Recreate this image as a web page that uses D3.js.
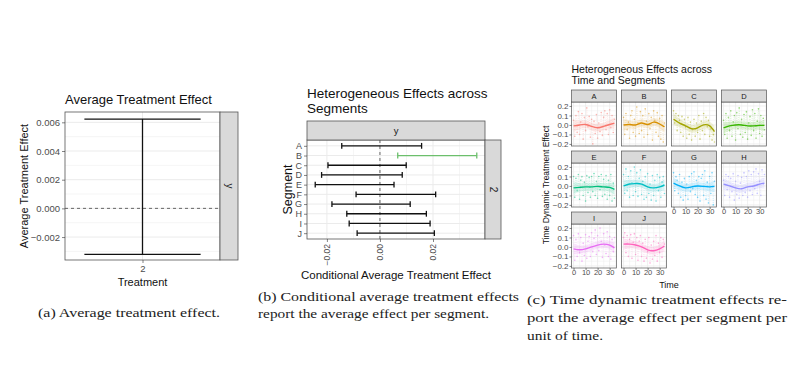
<!DOCTYPE html>
<html>
<head>
<meta charset="utf-8">
<script src="https://cdn.jsdelivr.net/npm/d3@7"></script>
<style>
  body { margin: 0; background: #fff; }
  svg { display: block; }
  text { font-family: "Liberation Sans", Arial, sans-serif; }
  .cap { font-family: "Liberation Serif", "DejaVu Serif", serif; fill: #222; }
</style>
</head>
<body>
<svg id="fig" width="800" height="392"></svg>
<script>
// ---------------- data ----------------
// (a) average treatment effect
var ateTreatment = ["2"];
var ateLower = [-0.00321];
var ateUpper = [0.00623];
var ateTicks = [-0.002, 0.000, 0.002, 0.004, 0.006];

// (b) conditional average treatment effects per segment
var segments = ["A", "B", "C", "D", "E", "F", "G", "H", "I", "J"];
var cateLower = [-0.0144, 0.0067, -0.0196, -0.0220, -0.0244, -0.0090, -0.0181, -0.0125, -0.0116, -0.0086];
var cateUpper = [0.0157, 0.0365, 0.0099, 0.0084, 0.0053, 0.0210, 0.0114, 0.0175, 0.0189, 0.0205];
var cateSignificant = ["B"];
var cateTicks = [-0.02, 0.00, 0.02];

// (c) time dynamic effects, one series per segment (time 0..34)
var timeSteps = d3.range(0, 35);
var timeTicks = [0, 10, 20, 30];
var dynTicks = [-0.2, -0.1, 0.0, 0.1, 0.2];
var dynA = [0.05,-0.12,0.1,-0.08,0.14,-0.1,0.03,0.12,-0.15,0.08,-0.06,0.18,-0.02,0.09,-0.13,0.06,-0.2,0.04,-0.09,0.11,-0.14,0.02,-0.07,0.13,-0.11,0.08,0.15,-0.05,0.12,-0.1,0.16,-0.03,0.1,-0.08,0.06];
var dynB = [0.08,-0.1,0.12,-0.05,0.03,-0.14,0.1,0.15,-0.08,0.06,-0.12,0.19,0.02,-0.09,0.14,-0.06,0.1,-0.13,0.17,0.04,-0.1,0.12,-0.04,0.08,-0.16,0.15,0.05,-0.08,0.13,-0.12,0.07,-0.15,0.1,-0.18,0.02];
var dynC = [0.15,0.02,0.12,-0.06,0.1,0.05,-0.08,0.09,-0.12,0.06,-0.02,-0.14,0.08,-0.1,0.03,-0.16,-0.05,0.06,-0.12,0.02,-0.08,0.1,-0.15,0.04,-0.06,0.12,-0.1,0.08,-0.02,0.05,-0.12,-0.04,-0.16,-0.1,-0.18];
var dynD = [0.05,-0.1,0.12,-0.14,0.08,-0.06,0.15,-0.12,0.03,0.1,-0.16,0.13,-0.04,0.18,-0.1,0.06,-0.13,0.11,-0.08,0.14,-0.15,0.02,0.09,-0.11,0.16,-0.06,0.12,-0.14,0.04,0.17,-0.09,0.1,-0.12,0.07,-0.05];
var dynE = [0.1,-0.12,0.08,-0.05,0.12,-0.14,0.06,0.1,-0.1,0.04,-0.16,0.11,-0.07,0.09,-0.12,0.1,-0.06,0.13,-0.1,0.05,-0.13,0.1,-0.04,0.12,-0.11,0.07,-0.09,0.11,-0.14,0.06,-0.1,0.12,-0.16,0.03,-0.13];
var dynF = [0.12,-0.08,0.18,-0.05,0.1,-0.12,0.16,0.03,-0.1,0.2,-0.06,0.14,-0.11,0.08,0.17,-0.09,0.05,-0.14,0.1,-0.12,0.13,-0.08,0.02,-0.15,0.11,-0.1,0.06,-0.16,0.12,-0.05,0.09,-0.12,0.04,0.1,-0.08];
var dynG = [0.14,-0.05,0.1,0.06,-0.08,0.12,-0.12,0.04,-0.15,0.08,-0.1,0.02,-0.14,0.1,-0.06,0.13,-0.03,0.15,-0.09,0.06,-0.12,0.1,-0.16,0.08,0.12,-0.1,0.16,-0.14,0.04,-0.18,0.1,-0.08,0.14,-0.2,0.05];
var dynH = [0.06,-0.1,0.12,-0.04,0.1,-0.12,0.08,-0.06,0.13,-0.15,0.05,-0.09,0.11,-0.13,0.03,0.09,-0.1,0.14,-0.07,0.1,-0.12,0.16,-0.05,0.12,-0.09,0.15,-0.03,0.18,-0.08,0.13,0.05,-0.1,0.17,0.02,0.12];
var dynI = [0.12,-0.14,0.08,-0.1,0.14,-0.06,0.1,-0.15,0.04,-0.09,0.13,-0.12,0.06,0.11,-0.1,0.15,-0.05,0.09,0.18,-0.08,0.12,-0.04,0.2,0.06,-0.11,0.14,0.02,-0.07,0.16,-0.1,0.11,-0.13,0.08,-0.05,0.1];
var dynJ = [0.1,0.15,-0.06,0.12,-0.1,0.08,0.13,-0.12,0.05,0.14,-0.08,0.1,-0.14,0.06,0.12,-0.1,0.04,-0.15,0.08,-0.12,-0.05,0.1,-0.17,0.02,-0.13,0.06,-0.09,0.12,-0.15,0.04,-0.06,0.1,-0.11,0.08,0.03];

// loess-like smooth per segment, read at these times
var smoothTimes = [0, 5, 10, 15, 20, 25, 30, 34];
var smoothA = [-0.01, 0.0, 0.005, -0.015, -0.03, -0.015, 0.005, 0.02];
var smoothB = [0.0, 0.005, 0.0, 0.02, 0.005, 0.03, 0.01, -0.02];
var smoothC = [0.06, 0.02, -0.01, -0.04, -0.03, 0.0, -0.01, -0.07];
var smoothD = [-0.03, -0.01, 0.0, 0.0, -0.01, -0.01, -0.005, -0.005];
var smoothE = [-0.02, -0.015, -0.01, -0.01, -0.005, -0.01, -0.015, -0.035];
var smoothF = [0.0, 0.02, 0.025, 0.02, -0.01, -0.02, -0.01, 0.01];
var smoothG = [0.03, 0.0, -0.02, -0.01, 0.0, -0.005, -0.01, -0.005];
var smoothH = [0.02, 0.0, -0.02, -0.03, -0.01, 0.0, 0.02, 0.03];
var smoothI = [-0.02, -0.03, -0.02, 0.0, 0.02, 0.03, 0.02, -0.01];
var smoothJ = [0.03, 0.03, 0.02, 0.0, -0.03, -0.04, -0.02, 0.01];
var smoothSE = [0.06, 0.045, 0.04, 0.04, 0.04, 0.04, 0.045, 0.06];

var dynSeries = [dynA, dynB, dynC, dynD, dynE, dynF, dynG, dynH, dynI, dynJ];
var smoothSeries = [smoothA, smoothB, smoothC, smoothD, smoothE, smoothF, smoothG, smoothH, smoothI, smoothJ];
var segColors = ["#F8766D", "#D89000", "#A3A500", "#39B600", "#00BF7D", "#00BFC4", "#00B0F6", "#9590FF", "#E76BF3", "#FF62BC"];

// ---------------- helpers ----------------
var svg = d3.select("#fig");
var gridCol = "#ebebeb", borderCol = "#555", stripFill = "#d9d9d9", tickTxt = "#4d4d4d";

function styleAxis(g, size) {
  g.select(".domain").remove();
  g.selectAll(".tick line").attr("stroke", "#333").attr("stroke-width", 0.6);
  g.selectAll(".tick text").attr("fill", tickTxt).style("font-size", size + "px");
}

// ================= (a) =================
var aL = 65, aR = 220, aT = 112, aB = 260;
var xA = d3.scalePoint().domain(ateTreatment).range([aL, aR]).padding(0.5);
var yA = d3.scaleLinear().domain([-0.0036, 0.00672]).range([aB, aT]);
var unitA = (aR - aL) / 1.2;
var gA = svg.append("g");

gA.append("g").selectAll("line").data([-0.003, -0.001, 0.001, 0.003, 0.005]).join("line")
  .attr("x1", aL).attr("x2", aR).attr("y1", d => yA(d)).attr("y2", d => yA(d))
  .attr("stroke", gridCol).attr("stroke-width", 0.5);
gA.append("g").selectAll("line").data(ateTicks).join("line")
  .attr("x1", aL).attr("x2", aR).attr("y1", d => yA(d)).attr("y2", d => yA(d))
  .attr("stroke", gridCol).attr("stroke-width", 1);
gA.append("line").attr("x1", xA("2")).attr("x2", xA("2")).attr("y1", aT).attr("y2", aB)
  .attr("stroke", gridCol).attr("stroke-width", 1);
gA.append("line").attr("x1", aL).attr("x2", aR).attr("y1", yA(0)).attr("y2", yA(0))
  .attr("stroke", "#444").attr("stroke-width", 0.8).attr("stroke-dasharray", "3,3");

ateTreatment.forEach(function (t, i) {
  var cx = xA(t), hw = 0.45 * unitA;
  gA.append("line").attr("x1", cx).attr("x2", cx).attr("y1", yA(ateUpper[i])).attr("y2", yA(ateLower[i]))
    .attr("stroke", "#111").attr("stroke-width", 1.3);
  [ateUpper[i], ateLower[i]].forEach(function (v) {
    gA.append("line").attr("x1", cx - hw).attr("x2", cx + hw).attr("y1", yA(v)).attr("y2", yA(v))
      .attr("stroke", "#111").attr("stroke-width", 1.3);
  });
});
gA.append("rect").attr("x", aL).attr("y", aT).attr("width", aR - aL).attr("height", aB - aT)
  .attr("fill", "none").attr("stroke", borderCol).attr("stroke-width", 0.8);
gA.append("rect").attr("x", aR).attr("y", aT).attr("width", 18).attr("height", aB - aT)
  .attr("fill", stripFill).attr("stroke", borderCol).attr("stroke-width", 0.8);
gA.append("text").attr("transform", "translate(" + (aR + 9) + "," + ((aT + aB) / 2) + ") rotate(90)")
  .attr("text-anchor", "middle").attr("dy", "0.35em").style("font-size", "10px").attr("fill", "#1a1a1a").text("y");

gA.append("g").attr("transform", "translate(" + aL + ",0)")
  .call(d3.axisLeft(yA).tickValues(ateTicks).tickFormat(d3.format(".3f")).tickSize(3).tickPadding(2))
  .call(g => styleAxis(g, 9.5));
gA.append("g").attr("transform", "translate(0," + aB + ")")
  .call(d3.axisBottom(xA).tickSize(3).tickPadding(2))
  .call(g => styleAxis(g, 9.5));
gA.append("text").attr("x", aL).attr("y", 104).style("font-size", "13px").attr("fill", "#111").text("Average Treatment Effect");
gA.append("text").attr("transform", "translate(24," + ((aT + aB) / 2) + ") rotate(-90)")
  .attr("text-anchor", "middle").attr("dy", "0.35em").style("font-size", "11px").attr("fill", "#111").text("Average Treatment Effect");
gA.append("text").attr("x", (aL + aR) / 2).attr("y", 286).attr("text-anchor", "middle")
  .style("font-size", "11px").attr("fill", "#111").text("Treatment");

// ================= (b) =================
var bL = 307, bR = 485, bT = 140, bB = 239;
var xB = d3.scaleLinear().domain([-0.0275, 0.0396]).range([bL, bR]);
var yB = d3.scalePoint().domain(segments).range([bT, bB]).padding(0.6);
var gB = svg.append("g");

gB.append("g").selectAll("line").data([-0.01, 0.01, 0.03]).join("line")
  .attr("x1", d => xB(d)).attr("x2", d => xB(d)).attr("y1", bT).attr("y2", bB)
  .attr("stroke", gridCol).attr("stroke-width", 0.5);
gB.append("g").selectAll("line").data(cateTicks).join("line")
  .attr("x1", d => xB(d)).attr("x2", d => xB(d)).attr("y1", bT).attr("y2", bB)
  .attr("stroke", gridCol).attr("stroke-width", 1);
gB.append("g").selectAll("line").data(segments).join("line")
  .attr("x1", bL).attr("x2", bR).attr("y1", d => yB(d)).attr("y2", d => yB(d))
  .attr("stroke", gridCol).attr("stroke-width", 1);
gB.append("line").attr("x1", xB(0)).attr("x2", xB(0)).attr("y1", bT).attr("y2", bB)
  .attr("stroke", "#444").attr("stroke-width", 0.8).attr("stroke-dasharray", "3,3");

var capB = 0.3 * yB.step();
segments.forEach(function (s, i) {
  var col = cateSignificant.indexOf(s) >= 0 ? "#6cbf6c" : "#111";
  var cy = yB(s);
  var eb = gB.append("g").attr("stroke", col).attr("stroke-width", 1.3);
  eb.append("line").attr("x1", xB(cateLower[i])).attr("x2", xB(cateUpper[i])).attr("y1", cy).attr("y2", cy);
  [cateLower[i], cateUpper[i]].forEach(function (v) {
    eb.append("line").attr("x1", xB(v)).attr("x2", xB(v)).attr("y1", cy - capB).attr("y2", cy + capB);
  });
});
gB.append("rect").attr("x", bL).attr("y", bT).attr("width", bR - bL).attr("height", bB - bT)
  .attr("fill", "none").attr("stroke", borderCol).attr("stroke-width", 0.8);
gB.append("rect").attr("x", bL).attr("y", 121).attr("width", bR - bL).attr("height", bT - 121)
  .attr("fill", stripFill).attr("stroke", borderCol).attr("stroke-width", 0.8);
gB.append("text").attr("x", (bL + bR) / 2).attr("y", 130.5).attr("dy", "0.35em").attr("text-anchor", "middle")
  .style("font-size", "9.5px").attr("fill", "#1a1a1a").text("y");
gB.append("rect").attr("x", bR).attr("y", bT).attr("width", 16).attr("height", bB - bT)
  .attr("fill", stripFill).attr("stroke", borderCol).attr("stroke-width", 0.8);
gB.append("text").attr("transform", "translate(" + (bR + 8) + "," + ((bT + bB) / 2) + ") rotate(90)")
  .attr("text-anchor", "middle").attr("dy", "0.35em").style("font-size", "10px").attr("fill", "#1a1a1a").text("2");

gB.append("g").attr("transform", "translate(" + bL + ",0)")
  .call(d3.axisLeft(yB).tickSize(3).tickPadding(2))
  .call(g => styleAxis(g, 9));
gB.append("g").attr("transform", "translate(0," + bB + ")")
  .call(d3.axisBottom(xB).tickValues(cateTicks).tickFormat(d3.format(".2f")).tickSize(3).tickPadding(2))
  .call(g => styleAxis(g, 8.5))
  .call(g => g.selectAll(".tick text").attr("transform", "rotate(-90)").attr("text-anchor", "end")
    .attr("x", -5).attr("y", 0).attr("dy", "0.35em"));
gB.append("text").attr("x", bL).attr("y", 98).style("font-size", "13.5px").attr("fill", "#111").text("Heterogeneous Effects across");
gB.append("text").attr("x", bL).attr("y", 113).style("font-size", "13.5px").attr("fill", "#111").text("Segments");
gB.append("text").attr("transform", "translate(288," + ((bT + bB) / 2) + ") rotate(-90)")
  .attr("text-anchor", "middle").attr("dy", "0.35em").style("font-size", "12.5px").attr("fill", "#111").text("Segment");
gB.append("text").attr("x", 396).attr("y", 279).attr("text-anchor", "middle")
  .style("font-size", "11.5px").attr("fill", "#111").text("Conditional Average Treatment Effect");

// ================= (c) =================
var cL = 571.5, cW = 45, cGap = 5, cStripTop = 90, cStrip = 12, cH = 44, cPitch = 61;
var gC = svg.append("g");
var smoothLine = d3.line().curve(d3.curveNatural);
var lastRowOfCol = [2, 2, 1, 1];

segments.forEach(function (s, i) {
  var col = i % 4, row = Math.floor(i / 4);
  var x0 = cL + col * (cW + cGap);
  var st = cStripTop + row * cPitch, pt = st + cStrip, pb = pt + cH;
  var x = d3.scaleLinear().domain([-1.7, 35.7]).range([x0, x0 + cW]);
  var y = d3.scaleLinear().domain([-0.222, 0.242]).range([pb, pt]);
  var g = gC.append("g");
  var colr = segColors[i];

  g.append("g").selectAll("line").data([-0.15, -0.05, 0.05, 0.15]).join("line")
    .attr("x1", x0).attr("x2", x0 + cW).attr("y1", d => y(d)).attr("y2", d => y(d))
    .attr("stroke", gridCol).attr("stroke-width", 0.4);
  g.append("g").selectAll("line").data([5, 15, 25, 35]).join("line")
    .attr("x1", d => x(d)).attr("x2", d => x(d)).attr("y1", pt).attr("y2", pb)
    .attr("stroke", gridCol).attr("stroke-width", 0.4);
  g.append("g").selectAll("line").data(dynTicks).join("line")
    .attr("x1", x0).attr("x2", x0 + cW).attr("y1", d => y(d)).attr("y2", d => y(d))
    .attr("stroke", gridCol).attr("stroke-width", 0.8);
  g.append("g").selectAll("line").data(timeTicks).join("line")
    .attr("x1", d => x(d)).attr("x2", d => x(d)).attr("y1", pt).attr("y2", pb)
    .attr("stroke", gridCol).attr("stroke-width", 0.8);

  var sm = smoothSeries[i];
  var upper = smoothTimes.map((t, k) => [x(t), y(sm[k] + smoothSE[k])]);
  var lower = smoothTimes.map((t, k) => [x(t), y(sm[k] - smoothSE[k])]);
  var ribbon = smoothLine(upper) + "L" + smoothLine(lower.slice().reverse()).slice(1) + "Z";
  g.append("path").attr("d", ribbon).attr("fill", colr).attr("fill-opacity", 0.15);

  var pts = timeSteps.map((t, k) => [x(t), y(dynSeries[i][k])]);
  g.append("path").attr("d", d3.line()(pts)).attr("fill", "none").attr("stroke", colr)
    .attr("stroke-width", 0.4).attr("stroke-opacity", 0.35).attr("stroke-dasharray", "1,1.2");
  g.append("g").selectAll("circle").data(pts).join("circle")
    .attr("cx", d => d[0]).attr("cy", d => d[1]).attr("r", 0.8)
    .attr("fill", colr).attr("fill-opacity", 0.5);
  g.append("path").attr("d", smoothLine(smoothTimes.map((t, k) => [x(t), y(sm[k])])))
    .attr("fill", "none").attr("stroke", colr).attr("stroke-width", 1.4);

  g.append("rect").attr("x", x0).attr("y", pt).attr("width", cW).attr("height", cH)
    .attr("fill", "none").attr("stroke", borderCol).attr("stroke-width", 0.7);
  g.append("rect").attr("x", x0).attr("y", st).attr("width", cW).attr("height", cStrip)
    .attr("fill", stripFill).attr("stroke", borderCol).attr("stroke-width", 0.7);
  g.append("text").attr("x", x0 + cW / 2).attr("y", st + cStrip / 2).attr("dy", "0.35em")
    .attr("text-anchor", "middle").style("font-size", "7.5px").attr("fill", "#1a1a1a").text(s);

  if (col === 0) {
    g.append("g").attr("transform", "translate(" + x0 + ",0)")
      .call(d3.axisLeft(y).tickValues(dynTicks).tickFormat(d3.format(".1f")).tickSize(2).tickPadding(1))
      .call(a => styleAxis(a, 8));
  }
  if (row === lastRowOfCol[col]) {
    g.append("g").attr("transform", "translate(0," + pb + ")")
      .call(d3.axisBottom(x).tickValues(timeTicks).tickSize(2).tickPadding(0))
      .call(a => styleAxis(a, 7.5));
  }
});
gC.append("text").attr("x", cL).attr("y", 72.5).style("font-size", "10.5px").attr("fill", "#111").text("Heterogeneous Effects across");
gC.append("text").attr("x", cL).attr("y", 84).style("font-size", "10.5px").attr("fill", "#111").text("Time and Segments");
gC.append("text").attr("transform", "translate(546,185) rotate(-90)").attr("text-anchor", "middle")
  .attr("dy", "0.35em").style("font-size", "8.5px").attr("fill", "#111").text("Time Dynamic Treatment Effect");
gC.append("text").attr("x", 669).attr("y", 288).attr("text-anchor", "middle")
  .style("font-size", "9px").attr("fill", "#111").text("Time");

// ================= captions =================
var captions = [
  { x: 38, y: 317, t: "(a) Average treatment effect.", w: 182 },
  { x: 258, y: 301, t: "(b) Conditional average treatment effects", w: 261 },
  { x: 258, y: 318, t: "report the average effect per segment.", w: 231 },
  { x: 527, y: 304, t: "(c) Time dynamic treatment effects re-", w: 260 },
  { x: 527, y: 322, t: "port the average effect per segment per", w: 260 },
  { x: 527, y: 340, t: "unit of time.", w: 76 }
];
svg.append("g").selectAll("text").data(captions).join("text")
  .attr("class", "cap").attr("x", d => d.x).attr("y", d => d.y)
  .attr("textLength", d => d.w).attr("lengthAdjust", "spacingAndGlyphs")
  .style("font-size", "13.5px").text(d => d.t);
</script>
</body>
</html>
